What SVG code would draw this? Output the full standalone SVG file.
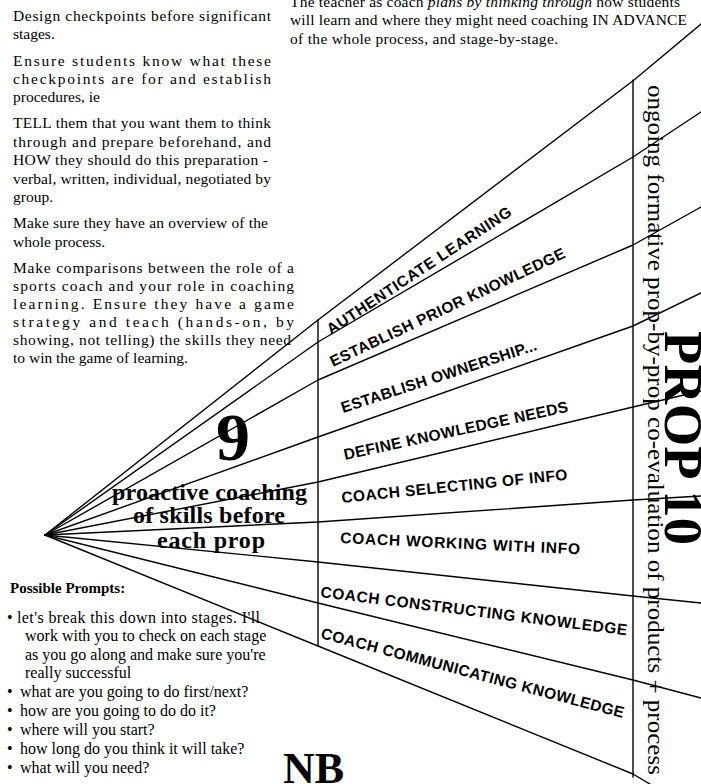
<svg xmlns="http://www.w3.org/2000/svg" width="701" height="784" viewBox="0 0 701 784">
<style>
.p{font-family:"Liberation Serif","Times New Roman",serif;font-size:15.5px;fill:#000}
.b{font-family:"Liberation Serif","Times New Roman",serif;font-size:16px;fill:#000}
.h{font-family:"Liberation Serif","Times New Roman",serif;font-size:15px;font-weight:bold;fill:#000}
.lab{font-family:"Liberation Sans",Arial,sans-serif;font-size:15.5px;font-weight:bold;fill:#000}
.big{font-family:"Liberation Serif","Times New Roman",serif;font-weight:bold;fill:#000}
.ln{fill:none;stroke:#000;stroke-width:1.4;stroke-linejoin:round;stroke-linecap:round}
</style>
<rect width="701" height="784" fill="#fff"/>

<g id="notes-left">
<text class="p" x="13" y="21" textLength="258" lengthAdjust="spacing">Design checkpoints before significant</text>
<text class="p" x="13" y="39">stages.</text>
<text class="p" x="13" y="66" textLength="258" lengthAdjust="spacing">Ensure students know what these</text>
<text class="p" x="13" y="84" textLength="258" lengthAdjust="spacing">checkpoints are for and establish</text>
<text class="p" x="13" y="102">procedures, ie</text>
<text class="p" x="13" y="128" textLength="258" lengthAdjust="spacing">TELL them that you want them to think</text>
<text class="p" x="13" y="147" textLength="258" lengthAdjust="spacing">through and prepare beforehand, and</text>
<text class="p" x="13" y="165" textLength="255" lengthAdjust="spacing">HOW they should do this preparation -</text>
<text class="p" x="13" y="184" textLength="258" lengthAdjust="spacing">verbal, written, individual, negotiated by</text>
<text class="p" x="13" y="202">group.</text>
<text class="p" x="13" y="228" textLength="255" lengthAdjust="spacing">Make sure they have an overview of the</text>
<text class="p" x="13" y="247">whole process.</text>
<text class="p" x="13" y="273" textLength="281" lengthAdjust="spacing">Make comparisons between the role of a</text>
<text class="p" x="13" y="291" textLength="281" lengthAdjust="spacing">sports coach and your role in coaching</text>
<text class="p" x="13" y="309" textLength="281" lengthAdjust="spacing">learning. Ensure they have a game</text>
<text class="p" x="13" y="327" textLength="281" lengthAdjust="spacing">strategy and teach (hands-on, by</text>
<text class="p" x="13" y="345" textLength="278" lengthAdjust="spacing">showing, not telling) the skills they need</text>
<text class="p" x="13" y="363">to win the game of learning.</text>
</g>

<g id="notes-top">
<text class="p" x="290" y="7" textLength="390" lengthAdjust="spacing">The teacher as coach <tspan font-style="italic">plans by thinking through</tspan> how students</text>
<text class="p" x="290" y="25" textLength="397" lengthAdjust="spacing">will learn and where they might need coaching IN ADVANCE</text>
<text class="p" x="290" y="44" textLength="268" lengthAdjust="spacing">of the whole process, and stage-by-stage.</text>
</g>

<g id="prompts">
<text class="h" x="10" y="593">Possible Prompts:</text>
<text class="b" x="7" y="623">•</text><text class="b" x="17" y="623" textLength="243" lengthAdjust="spacing">let's break this down into stages. I'll</text>
<text class="b" x="25" y="641">work with you to check on each stage</text>
<text class="b" x="25" y="660">as you go along and make sure you're</text>
<text class="b" x="25" y="678">really successful</text>
<text class="b" x="7" y="697">•</text><text class="b" x="20" y="697">what are you going to do first/next?</text>
<text class="b" x="7" y="716">•</text><text class="b" x="20" y="716">how are you going to do do it?</text>
<text class="b" x="7" y="735">•</text><text class="b" x="20" y="735">where will you start?</text>
<text class="b" x="7" y="754">•</text><text class="b" x="20" y="754">how long do you think it will take?</text>
<text class="b" x="7" y="773">•</text><text class="b" x="20" y="773">what will you need?</text>
</g>

<g id="stage-9">
<text class="big" x="233" y="460" font-size="68" text-anchor="middle">9</text>
<text class="big" x="112" y="500" font-size="24" textLength="195" lengthAdjust="spacing">proactive coaching</text>
<text class="big" x="133" y="523" font-size="24" textLength="152" lengthAdjust="spacing">of skills before</text>
<text class="big" x="157" y="548" font-size="24" textLength="108" lengthAdjust="spacing">each prop</text>
</g>

<g id="stage-10">
<text class="big" transform="translate(665,331) rotate(90)" font-size="54" textLength="214" lengthAdjust="spacingAndGlyphs">PROP 10</text>
<text class="p" transform="translate(648,85) rotate(90)" font-size="23" style="font-size:23px" textLength="690" lengthAdjust="spacingAndGlyphs">ongoing formative prop-by-prop co-evaluation of products + process</text>
</g>

<g id="nb">
<text class="big" x="283" y="783" font-size="44">NB</text>
</g>

<g id="label-1"><text class="lab" transform="translate(331,335) rotate(-33.5)" textLength="218" lengthAdjust="spacing">AUTHENTICATE LEARNING</text></g>
<g id="label-2"><text class="lab" transform="translate(333,367) rotate(-25.2)" textLength="258" lengthAdjust="spacing">ESTABLISH PRIOR KNOWLEDGE</text></g>
<g id="label-3"><text class="lab" transform="translate(343,413) rotate(-18)" textLength="205" lengthAdjust="spacing">ESTABLISH OWNERSHIP...</text></g>
<g id="label-4"><text class="lab" transform="translate(345,460) rotate(-12.2)" textLength="229" lengthAdjust="spacing">DEFINE KNOWLEDGE NEEDS</text></g>
<g id="label-5"><text class="lab" transform="translate(342,503) rotate(-5.9)" textLength="227" lengthAdjust="spacing">COACH SELECTING OF INFO</text></g>
<g id="label-6"><text class="lab" transform="translate(340,543) rotate(2.7)" textLength="240" lengthAdjust="spacing">COACH WORKING WITH INFO</text></g>
<g id="label-7"><text class="lab" transform="translate(320,597) rotate(7.1)" textLength="309" lengthAdjust="spacing">COACH CONSTRUCTING KNOWLEDGE</text></g>
<g id="label-8"><text class="lab" transform="translate(320,638) rotate(14.8)" textLength="313" lengthAdjust="spacing">COACH COMMUNICATING KNOWLEDGE</text></g>

<g id="connectors">
<polyline class="ln" points="45,535 318,320 634,80 701,24"/>
<polyline class="ln" points="45,535 318,342 633,157 701,112"/>
<polyline class="ln" points="45,535 318,380 633,245 701,207"/>
<polyline class="ln" points="45,535 318,437 633,326 701,293"/>
<polyline class="ln" points="45,535 318,482 633,407 701,391"/>
<polyline class="ln" points="45,535 318,522 633,500 701,496"/>
<polyline class="ln" points="45,535 318,562 633,596 701,603"/>
<polyline class="ln" points="45,535 318,603 633,680 701,698"/>
<polyline class="ln" points="45,535 318,646 633,774 650,784"/>
<line class="ln" x1="318" y1="320" x2="318" y2="646"/>
<line class="ln" x1="633" y1="80" x2="633" y2="777"/>
</g>
</svg>
